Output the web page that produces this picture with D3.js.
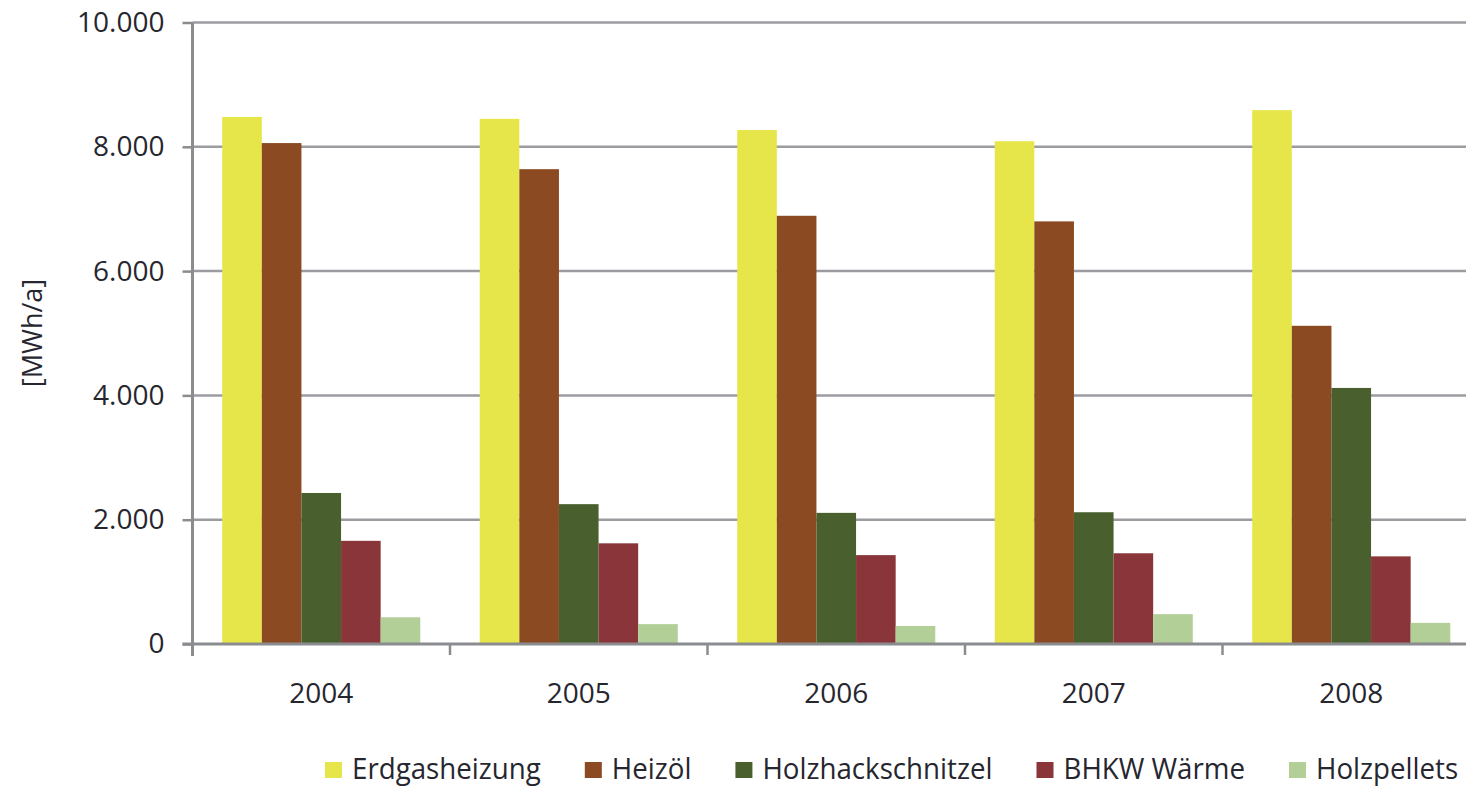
<!DOCTYPE html>
<html>
<head>
<meta charset="utf-8">
<script src="https://cdn.jsdelivr.net/npm/d3@7"></script>
<style>
  body { margin: 0; background: #fff; }
  svg { display: block; font-family: "Open Sans", sans-serif; }
</style>
</head>
<body>
<svg width="1466" height="787"></svg>
<script>
const years = ["2004", "2005", "2006", "2007", "2008"];
const series = ["Erdgasheizung", "Heizöl", "Holzhackschnitzel", "BHKW Wärme", "Holzpellets"];
const colors = ["#e6e64a", "#8b4a22", "#4a5f2e", "#8a3539", "#b2cf98"];

// values in MWh/a, one array per series (2004..2008)
const erdgas = [8480, 8450, 8270, 8090, 8590];
const heizoel = [8060, 7640, 6890, 6800, 5120];
const holzhack = [2430, 2250, 2110, 2120, 4120];
const bhkw = [1660, 1620, 1430, 1460, 1410];
const pellets = [430, 320, 290, 480, 340];
const values = [erdgas, heizoel, holzhack, bhkw, pellets];

const yTicks = [0, 2000, 4000, 6000, 8000, 10000];

const svg = d3.select("svg"),
    width = +svg.attr("width"),
    height = +svg.attr("height");

const de = d3.formatLocale({decimal: ",", thousands: ".", grouping: [3], currency: ["", "€"]});
const fmt = de.format(",.0f");

const plotLeft = 192.5, plotBottom = 644, plotTop = 22.5;
const x = d3.scaleBand().domain(years).range([plotLeft, 1480]).padding(0);
const xs = d3.scaleBand().domain(series).range([0, x.bandwidth()]).paddingInner(0).paddingOuter(0.75);
const y = d3.scaleLinear().domain([0, 10000]).range([plotBottom, plotTop]);
const color = d3.scaleOrdinal(series, colors);

const axisCol = "#8a8c90";
const textCol = "#26262f";

// gridlines
svg.append("g")
    .selectAll("line")
    .data(yTicks.filter(d => d > 0))
    .join("line")
    .attr("x1", plotLeft).attr("x2", width)
    .attr("y1", d => y(d)).attr("y2", d => y(d))
    .attr("stroke", "#9a9ca0")
    .attr("stroke-width", 2.5);

// bars
const group = svg.append("g")
    .selectAll("g")
    .data(years)
    .join("g")
    .attr("transform", d => `translate(${x(d)},0)`);

group.selectAll("rect")
    .data((yr, i) => series.map((s, j) => ({s, v: values[j][i]})))
    .join("rect")
    .attr("x", d => xs(d.s))
    .attr("width", xs.bandwidth())
    .attr("y", d => y(d.v))
    .attr("height", d => y(0) - y(d.v))
    .attr("fill", d => color(d.s));

// y axis
const yAxis = svg.append("g")
    .attr("transform", `translate(${plotLeft},0)`)
    .call(d3.axisLeft(y).tickValues(yTicks).tickFormat(fmt).tickSize(10).tickPadding(18));
yAxis.select(".domain").attr("stroke", axisCol).attr("stroke-width", 3).attr("d", `M0,${plotTop}V${plotBottom + 12}`);
yAxis.selectAll(".tick line").attr("stroke", axisCol).attr("stroke-width", 2.5);
yAxis.selectAll("text").attr("fill", textCol).attr("font-size", 28).attr("font-family", "Open Sans");

// x axis
const xAxis = svg.append("g")
    .attr("transform", `translate(0,${plotBottom})`);
xAxis.append("line")
    .attr("x1", plotLeft - 10).attr("x2", width)
    .attr("stroke", axisCol).attr("stroke-width", 3);
xAxis.selectAll(".sep")
    .data(years)
    .join("line")
    .attr("class", "sep")
    .attr("x1", d => x(d)).attr("x2", d => x(d))
    .attr("y1", 0).attr("y2", 11)
    .attr("stroke", axisCol).attr("stroke-width", 2.5);
xAxis.selectAll(".lbl")
    .data(years)
    .join("text")
    .attr("class", "lbl")
    .attr("x", d => x(d) + x.bandwidth() / 2)
    .attr("y", 59)
    .attr("text-anchor", "middle")
    .attr("fill", textCol)
    .attr("font-size", 28)
    .text(d => d);

// y axis title
svg.append("text")
    .attr("transform", "translate(42,333) rotate(-90)")
    .attr("text-anchor", "middle")
    .attr("fill", textCol)
    .attr("font-size", 27)
    .text("[MWh/a]");

// legend (narrow font in the original, so squeeze the text a bit)
const legend = svg.append("g").attr("transform", "translate(325,770)");
let lx = 0;
series.forEach(s => {
    const item = legend.append("g").attr("transform", `translate(${lx},0)`);
    item.append("rect")
        .attr("x", 0).attr("y", -8)
        .attr("width", 17).attr("height", 16)
        .attr("fill", color(s));
    const t = item.append("text")
        .attr("x", 27).attr("y", 9)
        .attr("fill", textCol)
        .attr("font-size", 29)
        .text(s);
    const w = t.node().getComputedTextLength() * 0.955;
    t.attr("textLength", w).attr("lengthAdjust", "spacingAndGlyphs");
    lx += 27 + w + 44;
});
</script>
</body>
</html>
